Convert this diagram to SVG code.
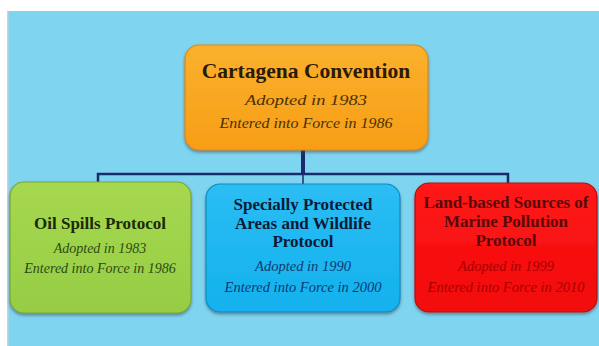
<svg xmlns="http://www.w3.org/2000/svg" width="599" height="346" viewBox="0 0 599 346">
  <defs>
    <filter id="sh" x="-10%" y="-10%" width="120%" height="130%">
      <feDropShadow dx="0" dy="2" stdDeviation="1.5" flood-color="#3a4a50" flood-opacity="0.55"/>
    </filter>
    <linearGradient id="gOr" x1="0" y1="0" x2="0" y2="1">
      <stop offset="0" stop-color="#fbb02e"/>
      <stop offset="1" stop-color="#f79e16"/>
    </linearGradient>
    <linearGradient id="gGr" x1="0" y1="0" x2="0" y2="1">
      <stop offset="0" stop-color="#a6d850"/>
      <stop offset="1" stop-color="#96cd44"/>
    </linearGradient>
    <linearGradient id="gBl" x1="0" y1="0" x2="0" y2="1">
      <stop offset="0" stop-color="#2bbdf3"/>
      <stop offset="1" stop-color="#13b1ee"/>
    </linearGradient>
    <linearGradient id="gRd" x1="0" y1="0" x2="0" y2="1">
      <stop offset="0" stop-color="#ff1a1a"/>
      <stop offset="1" stop-color="#f20808"/>
    </linearGradient>
  </defs>
  <style>
    .box { filter: url(#sh); stroke-width: 1.2; }
    .t { font-family: "Liberation Serif", "Times New Roman", serif; font-weight: bold; text-anchor: middle; }
    .s { font-family: "Liberation Serif", "Times New Roman", serif; font-style: italic; text-anchor: middle; }
    .conn { stroke: #1b2a6b; fill: none; stroke-linecap: butt; }
  </style>

  <rect x="0" y="0" width="599" height="346" fill="#ffffff"/>
  <rect x="7" y="11" width="592" height="335" fill="#7fd4f0"/>
  <rect x="7" y="11" width="1.5" height="335" fill="#c9d3d8"/>

  <g id="connectors">
    <line class="conn" x1="303" y1="150" x2="303" y2="175" stroke-width="4"/>
    <polyline class="conn" points="98,182 98,174 508,174 508,183" stroke-width="2.5"/>
    <line class="conn" x1="303" y1="174" x2="303" y2="184" stroke-width="1.5"/>
  </g>

  <g id="cartagena">
    <rect class="box" x="185" y="45" width="243" height="105" rx="14" fill="url(#gOr)" stroke="#d98a12"/>
    <text class="t" x="306" y="78" font-size="21.5" fill="#2a1a06">Cartagena Convention</text>
    <text class="s" x="306" y="105" font-size="15.5" fill="#4a3000" textLength="122" lengthAdjust="spacingAndGlyphs">Adopted in 1983</text>
    <text class="s" x="306" y="128" font-size="15.5" fill="#4a3000" textLength="173" lengthAdjust="spacingAndGlyphs">Entered into Force in 1986</text>
  </g>

  <g id="oil">
    <rect class="box" x="10" y="182" width="181" height="131" rx="14" fill="url(#gGr)" stroke="#7aa838"/>
    <text class="t" x="100" y="229" font-size="17" fill="#1a2a08">Oil Spills Protocol</text>
    <text class="s" x="100" y="253" font-size="14" fill="#2d4a12">Adopted in 1983</text>
    <text class="s" x="100" y="273" font-size="14" fill="#2d4a12">Entered into Force in 1986</text>
  </g>

  <g id="spaw">
    <rect class="box" x="206" y="184" width="194" height="128" rx="14" fill="url(#gBl)" stroke="#0f8cc0"/>
    <text class="t" x="303" y="210" font-size="17" fill="#0c1a38">Specially Protected</text>
    <text class="t" x="303" y="229" font-size="17" fill="#0c1a38">Areas and Wildlife</text>
    <text class="t" x="303" y="247" font-size="17" fill="#0c1a38">Protocol</text>
    <text class="s" x="303" y="271" font-size="14.5" fill="#0b3a72">Adopted in 1990</text>
    <text class="s" x="303" y="292" font-size="14.5" fill="#0b3a72">Entered into Force in 2000</text>
  </g>

  <g id="lbs">
    <rect class="box" x="415" y="183" width="182" height="129" rx="14" fill="url(#gRd)" stroke="#b80a0a"/>
    <text class="t" x="506" y="208" font-size="17" fill="#5a0808">Land-based Sources of</text>
    <text class="t" x="506" y="227" font-size="17" fill="#5a0808">Marine Pollution</text>
    <text class="t" x="506" y="246" font-size="17" fill="#5a0808">Protocol</text>
    <text class="s" x="506" y="271" font-size="14.5" fill="#a50000">Adopted in 1999</text>
    <text class="s" x="506" y="292" font-size="14.5" fill="#a50000">Entered into Force in 2010</text>
  </g>
</svg>
